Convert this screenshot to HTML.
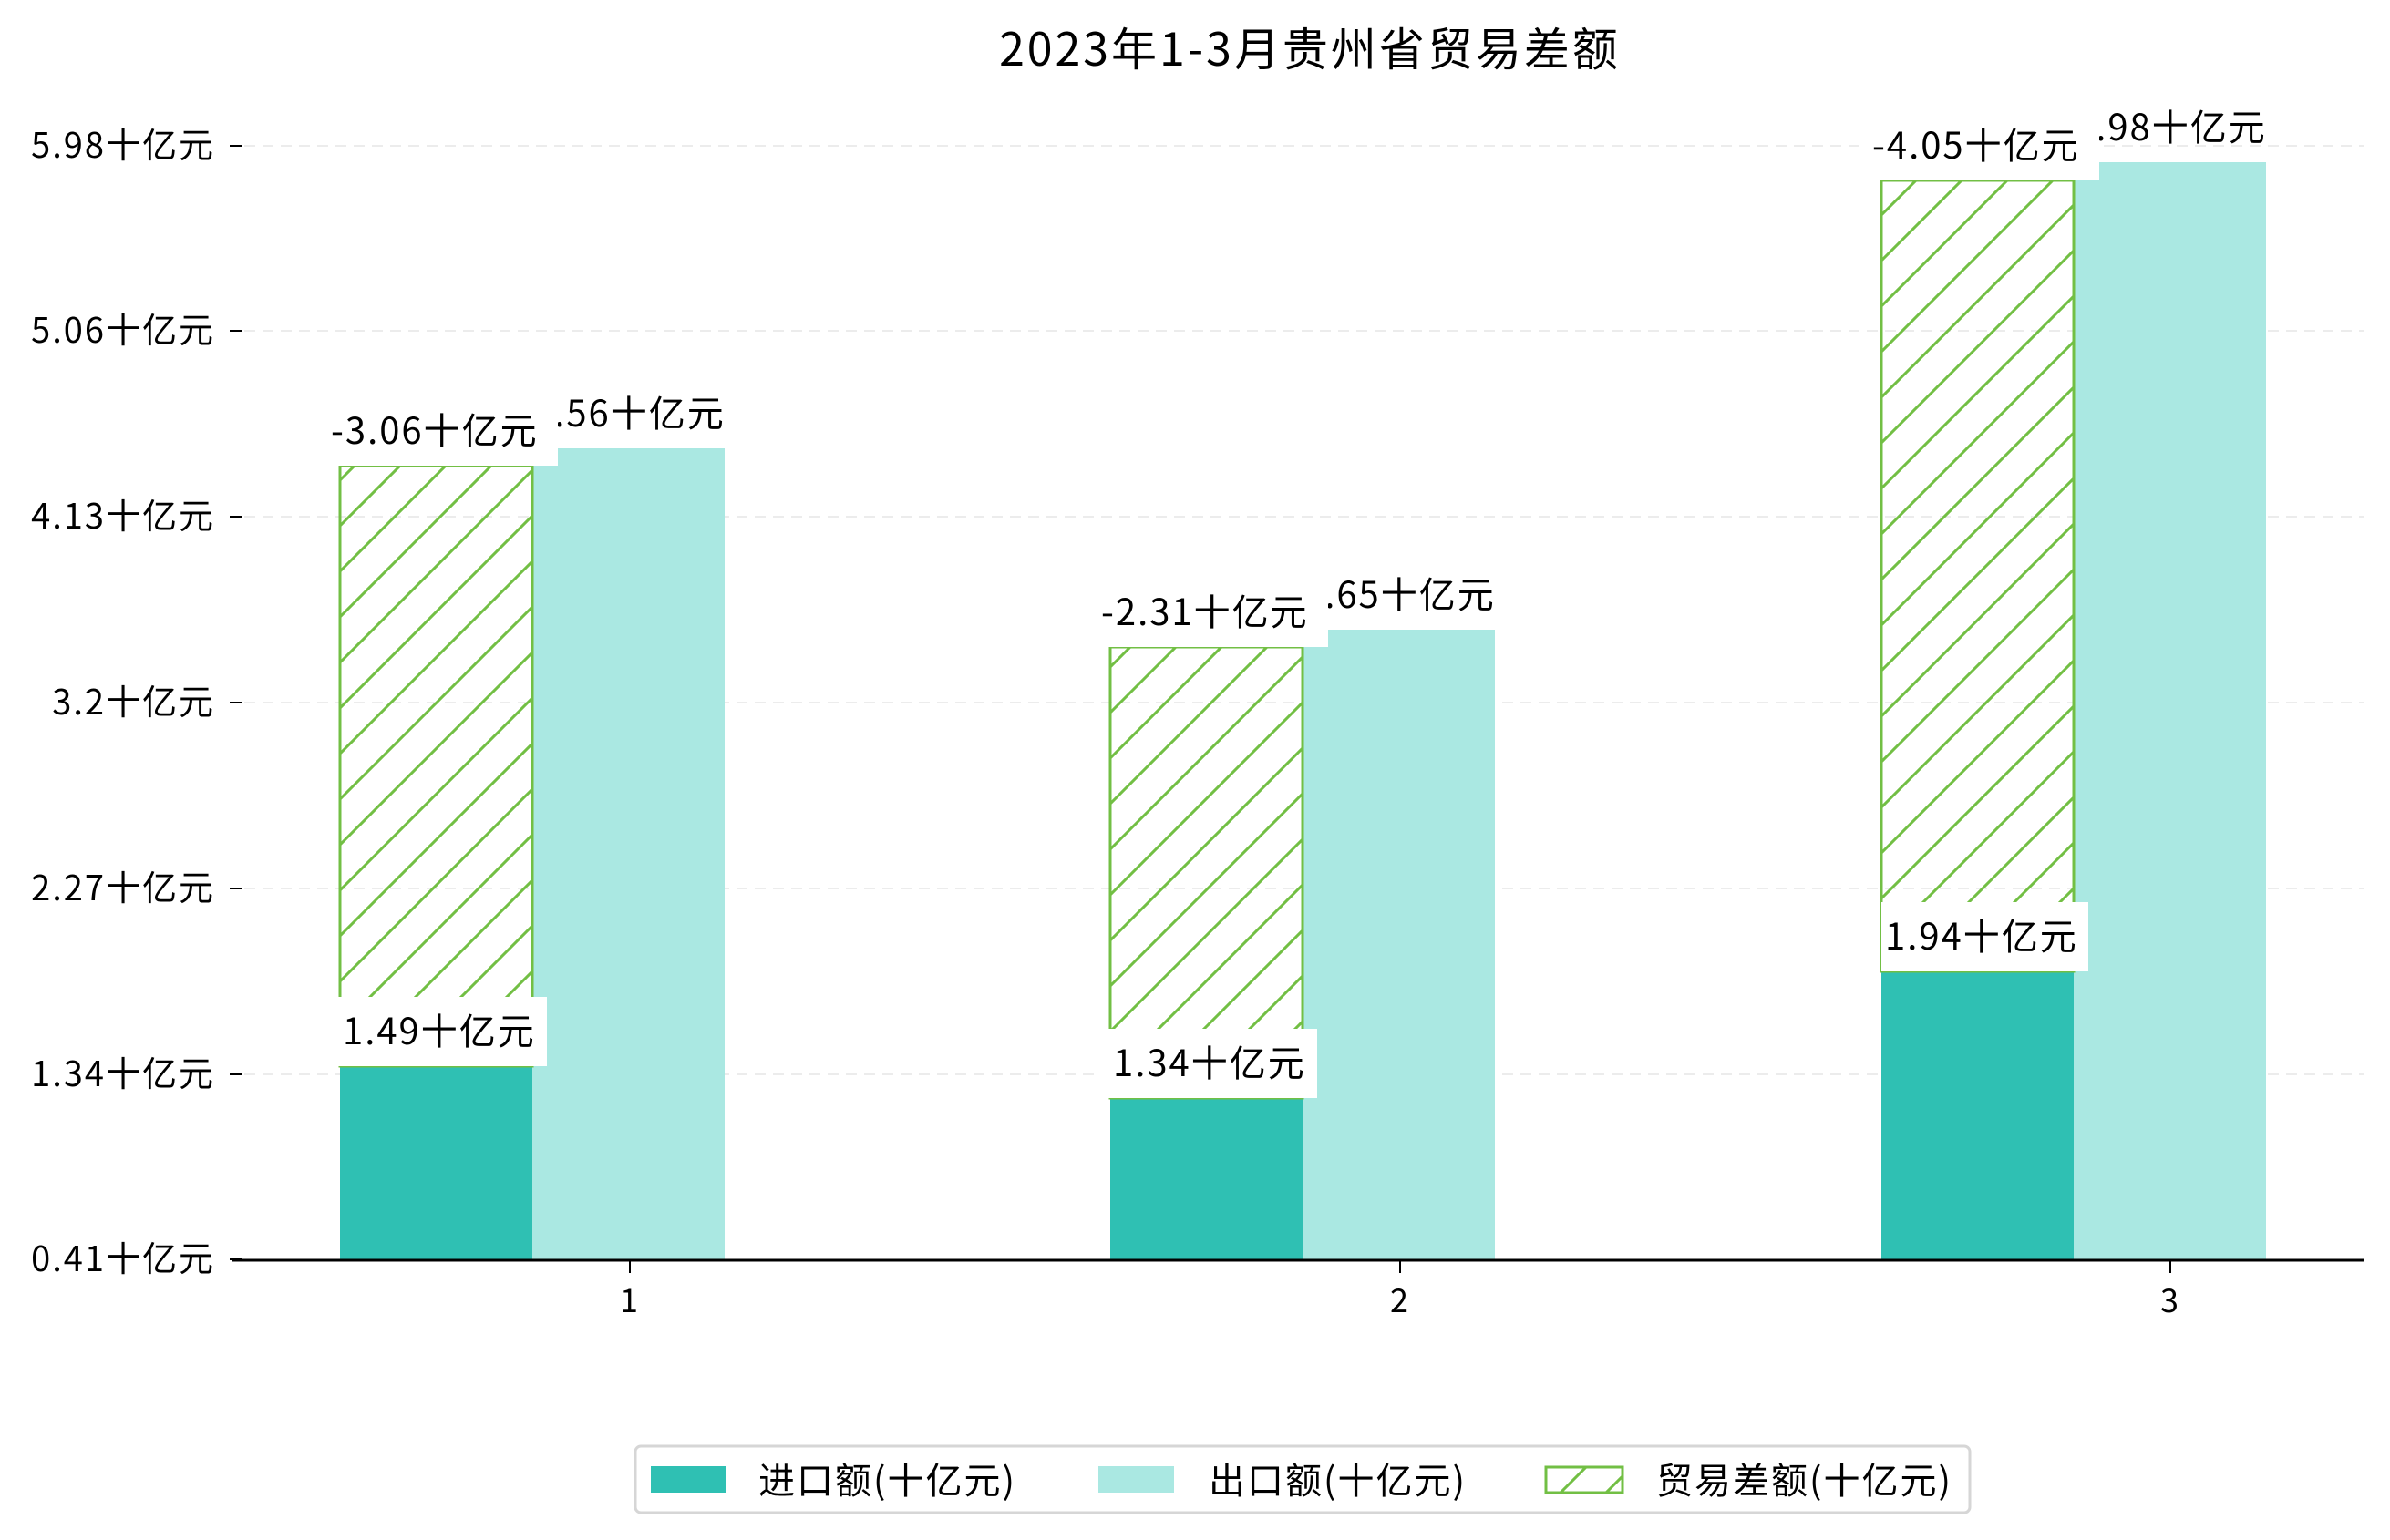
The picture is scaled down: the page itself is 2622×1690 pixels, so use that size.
<!DOCTYPE html>
<html><head><meta charset="utf-8"><style>
html,body{margin:0;padding:0;background:#fff;}
svg{display:block;}
text{font-family:"Noto Sans CJK SC",sans-serif;fill:#000;letter-spacing:2px;}
</style></head><body>
<svg width="2622" height="1690" viewBox="0 0 2622 1690" xmlns="http://www.w3.org/2000/svg">
<defs>
<pattern id="h" patternUnits="userSpaceOnUse" width="50" height="50">
<line x1="-5" y1="55" x2="55" y2="-5" stroke="#72bf44" stroke-width="3"/>
<line x1="-30" y1="30" x2="30" y2="-30" stroke="#72bf44" stroke-width="3"/>
<line x1="20" y1="80" x2="80" y2="20" stroke="#72bf44" stroke-width="3"/>
</pattern>
</defs>
<text x="1437" y="72" font-size="50" text-anchor="middle" style="letter-spacing:3px">2023年1-3月贵州省贸易差额</text>
<g stroke="#ececec" stroke-width="2" stroke-dasharray="12,8">
<line x1="268" y1="160" x2="2594" y2="160"/>
<line x1="268" y1="363" x2="2594" y2="363"/>
<line x1="268" y1="567" x2="2594" y2="567"/>
<line x1="268" y1="771" x2="2594" y2="771"/>
<line x1="268" y1="975" x2="2594" y2="975"/>
<line x1="268" y1="1179" x2="2594" y2="1179"/>
</g>
<g stroke="#000" stroke-width="2">
<line x1="252" y1="160" x2="266" y2="160"/>
<line x1="252" y1="363" x2="266" y2="363"/>
<line x1="252" y1="567" x2="266" y2="567"/>
<line x1="252" y1="771" x2="266" y2="771"/>
<line x1="252" y1="975" x2="266" y2="975"/>
<line x1="252" y1="1179" x2="266" y2="1179"/>
<line x1="252" y1="1382" x2="266" y2="1382"/>
</g>
<g font-size="38" text-anchor="end">
<text x="236" y="173">5.98十亿元</text>
<text x="236" y="376">5.06十亿元</text>
<text x="236" y="580">4.13十亿元</text>
<text x="236" y="784">3.2十亿元</text>
<text x="236" y="988">2.27十亿元</text>
<text x="236" y="1192">1.34十亿元</text>
<text x="236" y="1395">0.41十亿元</text>
</g>
<g>
<rect x="373" y="1170" width="211" height="212" fill="#2fc0b3"/>
<rect x="584" y="492" width="211" height="890" fill="#aae8e2"/>
<rect x="373" y="511" width="211" height="659" fill="url(#h)" stroke="#72bf44" stroke-width="3"/>
<rect x="1218" y="1205" width="211" height="177" fill="#2fc0b3"/>
<rect x="1429" y="691" width="211" height="691" fill="#aae8e2"/>
<rect x="1218" y="710" width="211" height="495" fill="url(#h)" stroke="#72bf44" stroke-width="3"/>
<rect x="2064" y="1066" width="211" height="316" fill="#2fc0b3"/>
<rect x="2275" y="178" width="211" height="1204" fill="#aae8e2"/>
<rect x="2064" y="198" width="211" height="868" fill="url(#h)" stroke="#72bf44" stroke-width="3"/>
</g>
<g font-size="40">
<text x="584" y="468">4.56十亿元</text>
<rect x="355" y="435" width="257" height="76" fill="#fff"/>
<text x="363" y="487">-3.06十亿元</text>
<rect x="360" y="1094" width="240" height="76" fill="#fff"/>
<text x="376" y="1146">1.49十亿元</text>

<text x="1429" y="667">3.65十亿元</text>
<rect x="1200" y="634" width="257" height="76" fill="#fff"/>
<text x="1208" y="686">-2.31十亿元</text>
<rect x="1205" y="1129" width="240" height="76" fill="#fff"/>
<text x="1221" y="1181">1.34十亿元</text>

<text x="2275" y="154">6.98十亿元</text>
<rect x="2046" y="122" width="257" height="76" fill="#fff"/>
<text x="2054" y="174">-4.05十亿元</text>
<rect x="2064" y="990" width="227" height="76" fill="#fff"/>
<text x="2068" y="1042">1.94十亿元</text>
</g>
<line x1="255" y1="1383" x2="2594" y2="1383" stroke="#000" stroke-width="3"/>
<g stroke="#000" stroke-width="2">
<line x1="691" y1="1383" x2="691" y2="1397"/>
<line x1="1536" y1="1383" x2="1536" y2="1397"/>
<line x1="2381" y1="1383" x2="2381" y2="1397"/>
</g>
<g font-size="36" text-anchor="middle">
<text x="691" y="1440">1</text>
<text x="1536" y="1440">2</text>
<text x="2381" y="1440">3</text>
</g>
<rect x="697" y="1587" width="1464" height="73" rx="6" fill="#fff" stroke="#d6d6d6" stroke-width="3"/>
<rect x="714" y="1609" width="83" height="29" fill="#2fc0b3"/>
<rect x="1205" y="1609" width="83" height="29" fill="#aae8e2"/>
<rect x="1696" y="1610" width="84" height="28" fill="url(#h)" stroke="#72bf44" stroke-width="3"/>
<g font-size="40">
<text x="832" y="1639">进口额(十亿元)</text>
<text x="1326" y="1639">出口额(十亿元)</text>
<text x="1817" y="1639">贸易差额(十亿元)</text>
</g>
</svg>
</body></html>
